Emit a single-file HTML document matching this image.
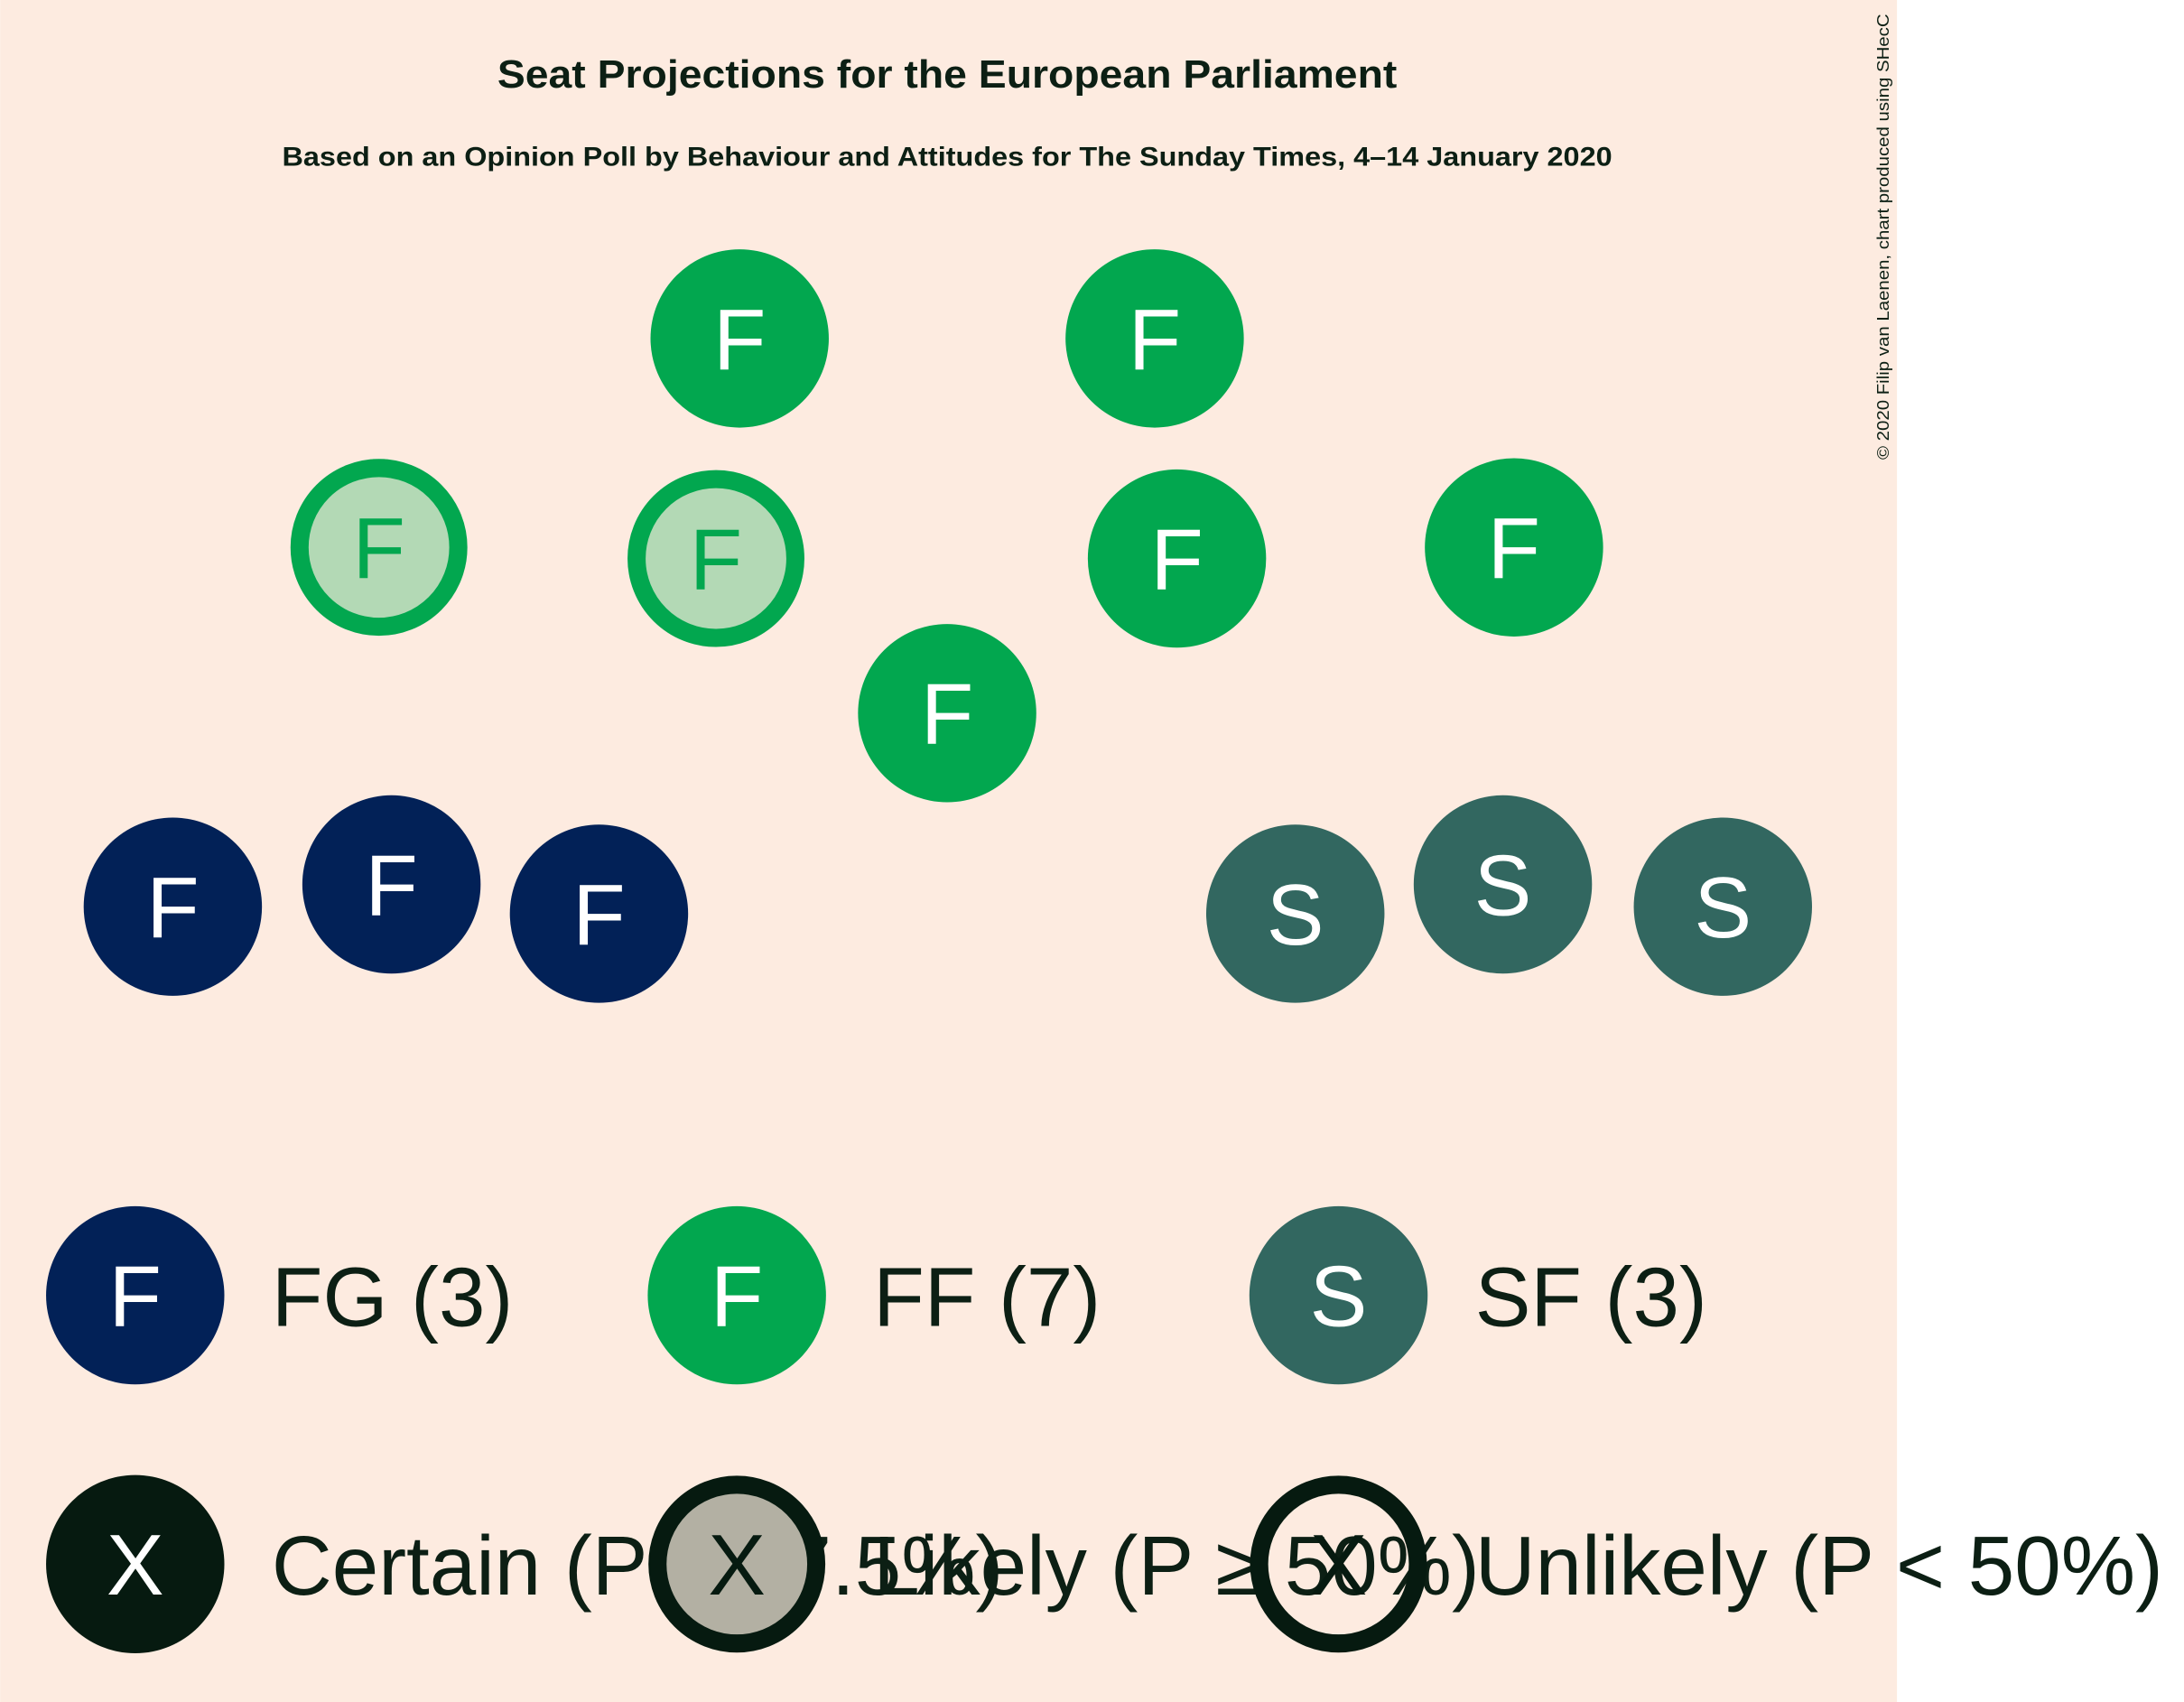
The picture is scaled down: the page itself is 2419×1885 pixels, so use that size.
<!DOCTYPE html>
<html><head><meta charset="utf-8"><style>
html,body{margin:0;padding:0;background:#fff;}
svg{display:block;}
text{font-family:"Liberation Sans",sans-serif;}
</style></head><body>
<svg id="chart" width="2419" height="1885" viewBox="0 0 1568 1222" xmlns="http://www.w3.org/2000/svg">
<rect x="0" y="0" width="1362" height="1222" fill="#FDEBE0"/>
<text x="680" y="63" text-anchor="middle" font-size="28" font-weight="bold" fill="#0C1F14" textLength="646" lengthAdjust="spacingAndGlyphs">Seat Projections for the European Parliament</text>
<text x="680" y="119" text-anchor="middle" font-size="19.5" font-weight="bold" fill="#0C1F14" textLength="955" lengthAdjust="spacingAndGlyphs">Based on an Opinion Poll by Behaviour and Attitudes for The Sunday Times, 4–14 January 2020</text>
<text transform="translate(1356,170) rotate(-90)" text-anchor="middle" font-size="12" fill="#0C1F14" textLength="320" lengthAdjust="spacingAndGlyphs">© 2020 Filip van Laenen, chart produced using SHecC</text>
<g id="seats"></g>
<g id="legend"></g>
</svg>
<script>
const parties = ["FG", "FF", "SF"];
const seatCounts = [3, 7, 3];
const partyColors = ["#022157", "#02A74F", "#326760"];
const partyLetters = ["F", "F", "S"];
// seat layout: party index, status (certain / likely), layout position
const seatParty = [0,0,0, 1,1,1,1,1,1,1, 2,2,2];
const seatStatus = ["certain","certain","certain","certain","certain","likely","likely","certain","certain","certain","certain","certain","certain"];
const seatX = [124,281,430, 531,829,272,514,845,1087,680, 930,1079,1237];
const seatY = [651,635,656, 243,243,393,401,401,393,512, 656,635,651];
const NS = "http://www.w3.org/2000/svg";
const R = 64;
function mk(tag, attrs){const e=document.createElementNS(NS,tag);for(const k in attrs)e.setAttribute(k,attrs[k]);return e;}
const sg = document.getElementById("seats");
for (let i=0;i<seatParty.length;i++){
  const p=seatParty[i], c=partyColors[p];
  const g=mk("g",{});
  
  
  const likely = seatStatus[i]==="likely";
  g.appendChild(mk("circle",{cx:seatX[i],cy:seatY[i],r:likely?R-7:R,fill:likely?"#B3D9B5":c,stroke:likely?c:"none","stroke-width":likely?13:0}));
  const t=mk("text",{x:seatX[i],y:seatY[i]+22,"text-anchor":"middle","font-size":62,fill:likely?c:"#fff"});
  t.textContent=partyLetters[p];
  g.appendChild(t);
  sg.appendChild(g);
}
const lg=document.getElementById("legend");
const legX=[97,529,961];
for (let i=0;i<parties.length;i++){
  const g=mk("g",{});
  
  
  g.appendChild(mk("circle",{cx:legX[i],cy:930,r:R,fill:partyColors[i]}));
  const t=mk("text",{x:legX[i],y:952,"text-anchor":"middle","font-size":62,fill:"#fff"});t.textContent=partyLetters[i];g.appendChild(t);
  const l=mk("text",{x:legX[i]+98,y:952,"font-size":60,fill:"#0C1F14"});l.textContent=parties[i]+" ("+seatCounts[i]+")";g.appendChild(l);
  lg.appendChild(g);
}
const statusLabels=["Certain (P ≥ 97.5%)","Likely (P ≥ 50%)","Unlikely (P < 50%)"];
const statusFill=["#061A10","#B3B0A3","none"];
for (let i=0;i<3;i++){
  const g=mk("g",{});
  
  
  g.appendChild(mk("circle",{cx:legX[i],cy:1123,r:i===0?R:R-7,fill:statusFill[i],stroke:i===0?"none":"#061A10","stroke-width":i===0?0:13}));
  const t=mk("text",{x:legX[i],y:1145,"text-anchor":"middle","font-size":62,fill:i===0?"#fff":"#061A10"});t.textContent="X";g.appendChild(t);
  const l=mk("text",{x:legX[i]+98,y:1145,"font-size":60,fill:"#0C1F14"});l.textContent=statusLabels[i];g.appendChild(l);
  lg.appendChild(g);
}
</script>
</body></html>
